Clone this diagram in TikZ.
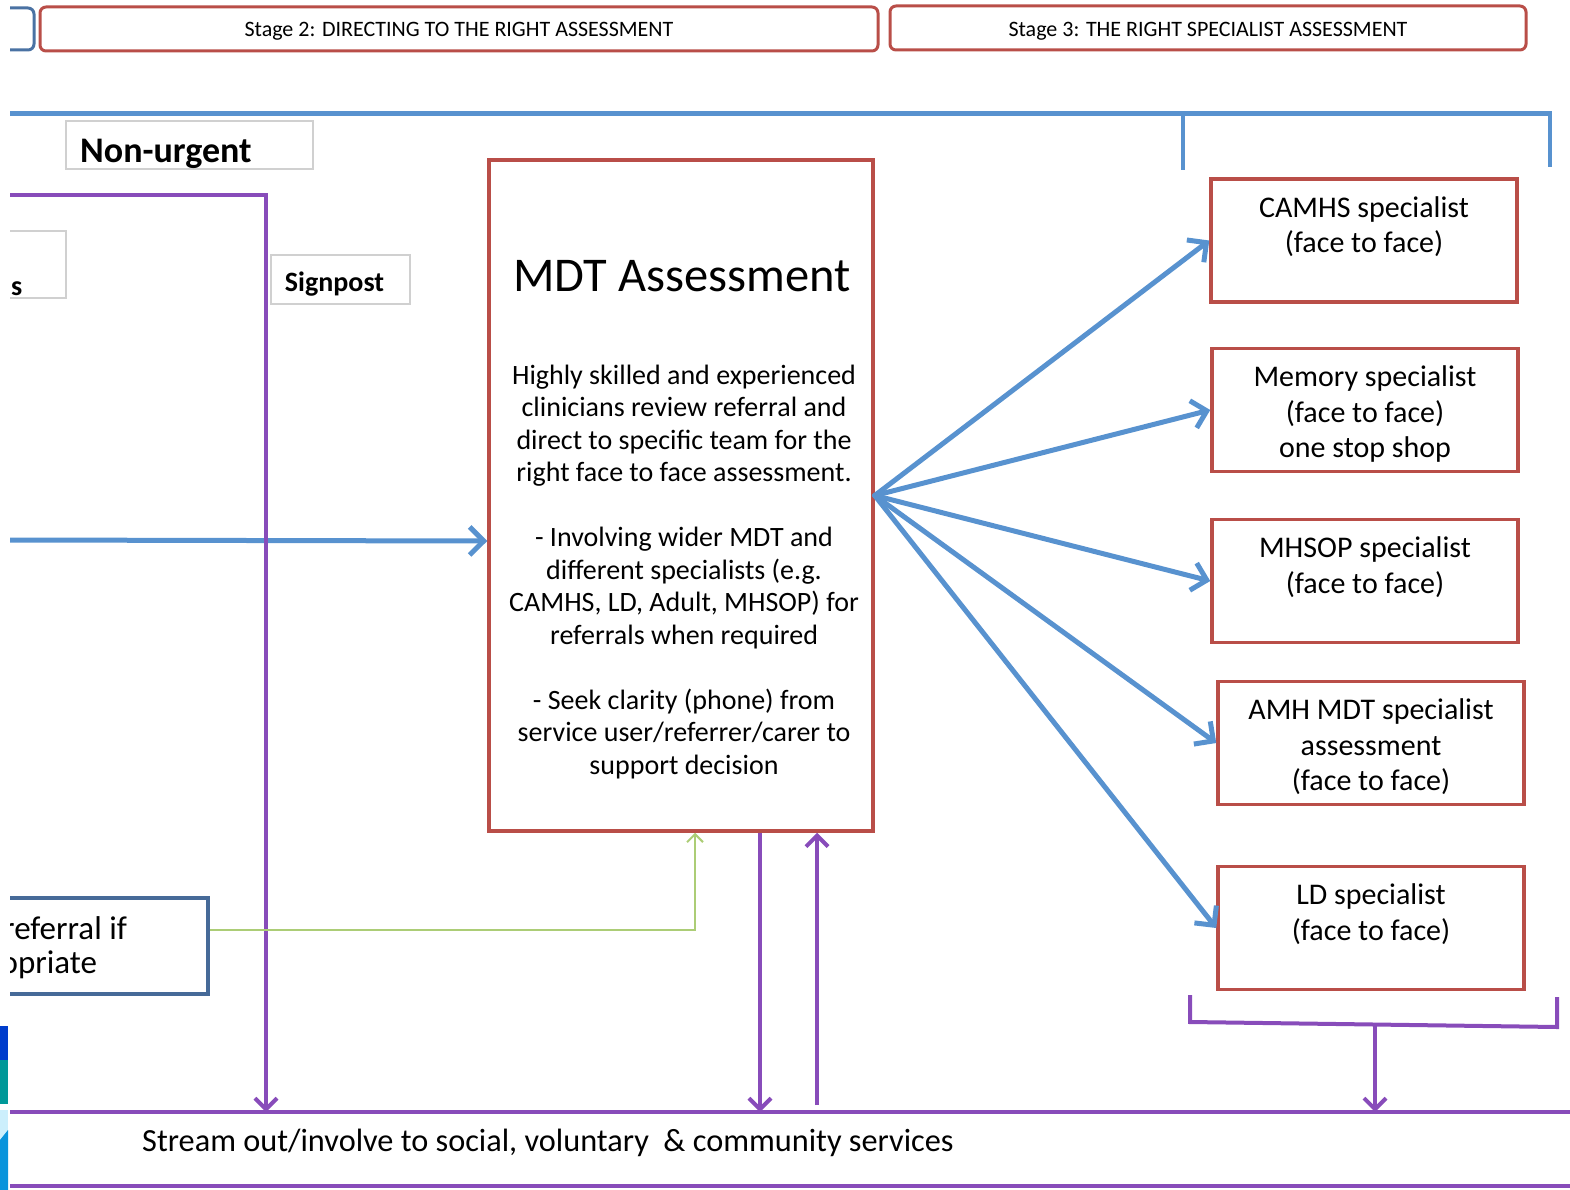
\documentclass[tikz,border=0pt]{standalone}
\usepackage{fontspec}
\setmainfont{Carlito}
\usetikzlibrary{arrows.meta,positioning}

\definecolor{boxred}{RGB}{185,78,72}
\definecolor{arrowblue}{RGB}{88,146,207}
\definecolor{streampurple}{RGB}{136,76,186}
\definecolor{referblue}{RGB}{70,106,152}
\definecolor{linkgreen}{RGB}{172,205,118}
\definecolor{boxgray}{RGB}{208,208,208}

\tikzset{
  stagebox/.style={draw=boxred, line width=3pt, rounded corners=6pt, minimum height=44pt, inner sep=0pt, font=\fontsize{22}{26}\selectfont},
  redbox/.style={draw=boxred, line width=3.5pt, inner sep=0pt},
  specbox/.style={redbox, minimum width=306pt, minimum height=123pt},
  spectext/.style={align=center, inner sep=0pt, font=\fontsize{30}{35.5}\selectfont},
  graybox/.style={draw=boxgray, line width=2pt, inner sep=0pt},
  bluearrow/.style={draw=arrowblue, line width=5pt, line cap=round, -{Straight Barb[length=14pt,width=28pt]}},
  purplearrow/.style={draw=streampurple, line width=4pt, -{Straight Barb[length=11pt,width=22pt]}},
}

\begin{document}
\begin{tikzpicture}[x=1pt, y=-1pt]
  \useasboundingbox (0,0) rectangle (1570,1190);

  % logo strip at the left edge
  \fill[blue!70!cyan!80!black] (0,1026) rectangle (8,1060);
  \fill[teal!80!cyan] (0,1060) rectangle (8,1104);
  \fill[cyan!20] (0,1110) rectangle (8,1150);
  \fill[cyan!80!blue] (0,1140) -- (8,1130) -- (8,1190) -- (0,1190) -- cycle;

  \begin{scope}
  \clip (10,0) rectangle (1570,1190);

  % stage headers
  \draw[draw=referblue!80!arrowblue, line width=3pt, rounded corners=6pt] (-20,8) rectangle (34,50);
  \node[stagebox, minimum width=838pt] (stage2) at (459,29) {};
  \node[stagebox, minimum width=636pt] (stage3) at (1208,28) {};
  \node[inner sep=0pt, font=\fontsize{22}{26}\selectfont] (stage2text) at (459,31) {Stage 2: DIRECTING TO THE RIGHT ASSESSMENT};
  \node[inner sep=0pt, font=\fontsize{22}{26}\selectfont] (stage3text) at (1208,31) {Stage 3: THE RIGHT SPECIALIST ASSESSMENT};

  % blue bracket over the specialists
  \draw[arrowblue, line width=4.5pt] (10,113.5) -- (1550,113.5) -- (1550,167);
  \draw[arrowblue, line width=4.5pt] (1183,113.5) -- (1183,170);

  % left side boxes
  \node[graybox, minimum width=247pt, minimum height=48pt] (nonurgent) at (189.5,145) {};
  \node[anchor=west, inner sep=0pt, font=\fontsize{36}{40}\selectfont\bfseries] (nonurgenttext) at (80,154) {Non-urgent};
  \node[graybox, minimum width=76pt, minimum height=67pt] (otherbox) at (28,264.5) {};
  \node[anchor=west, inner sep=0pt, font=\fontsize{28}{32}\selectfont\bfseries] (othertext) at (11,289) {s};
  \node[graybox, minimum width=139pt, minimum height=49pt] (signpost) at (340.5,279.5) {};
  \node[inner sep=0pt, font=\fontsize{28}{32}\selectfont\bfseries] (signposttext) at (334.5,284) {Signpost};
  \node[draw=referblue, line width=3.5pt, inner sep=0pt, minimum width=258pt, minimum height=96pt] (referral) at (79,946) {};
  \node[anchor=west, inner sep=0pt, font=\fontsize{33}{38}\selectfont] (referline1) at (3,928) {referral if};
  \node[anchor=west, inner sep=0pt, font=\fontsize{33}{38}\selectfont] (referline2) at (-61,965) {appropriate};

  % MDT box
  \node[redbox, minimum width=384pt, minimum height=671pt] (mdt) at (681,495.5) {};
  \node[inner sep=0pt, font=\fontsize{48.5}{56}\selectfont] (mdttitle) at (682,276) {MDT Assessment};
  \node[align=center, inner sep=0pt, font=\fontsize{28}{32.5}\selectfont] (mdtbody) at (684,572)
    {Highly skilled and experienced\\ clinicians review referral and\\ direct to specific team for the\\ right face to face assessment.\\[32.5pt]
     - Involving wider MDT and\\ different specialists (e.g.\\ CAMHS, LD, Adult, MHSOP) for\\ referrals when required\\[32.5pt]
     - Seek clarity (phone) from\\ service user/referrer/carer to\\ support decision};

  % specialist boxes
  \node[specbox] (camhs) at (1364,240.5) {};
  \node[specbox] (memory) at (1365,410) {};
  \node[specbox] (mhsop) at (1365,581) {};
  \node[specbox] (amh) at (1371,743) {};
  \node[specbox] (ld) at (1371,928) {};
  \node[spectext, below=19pt of camhs.north] {CAMHS specialist\\ (face to face)};
  \node[spectext, below=19pt of memory.north] {Memory specialist\\ (face to face)\\ one stop shop};
  \node[spectext, below=19pt of mhsop.north] {MHSOP specialist\\ (face to face)};
  \node[spectext, below=19pt of amh.north] {AMH MDT specialist\\ assessment\\ (face to face)};
  \node[spectext, below=19pt of ld.north] {LD specialist\\ (face to face)};

  % stream out band
  \coordinate (streamleft) at (10,1112);
  \coordinate (streamright) at (1570,1112);
  \draw[streampurple, line width=4pt] (streamleft) -- (streamright);
  \draw[streampurple, line width=4pt] (10,1186) -- (1570,1186);
  \node[anchor=west, inner sep=0pt, font=\fontsize{32.3}{36}\selectfont] (stream) at (142,1143)
    {Stream out/involve to social, voluntary\ \ \& community services};

  % arrows out of the MDT box
  \foreach \spec in {camhs,memory,mhsop,amh,ld}
    \draw[bluearrow] (mdt.east) -- (\spec.west);

  % arrow into the MDT box
  \coordinate (inflow) at (10,540);
  \draw[bluearrow] (inflow) -- (mdt.west |- 0,541);

  % purple links
  \draw[streampurple, line width=4pt, line join=miter] (10,195) -- (266,195) -- (266,1100);
  \draw[purplearrow] (266,1100) -- (266,0 |- streamleft);
  \draw[purplearrow] (mdt.south -| 760,0) -- (760,0 |- streamleft);
  \draw[purplearrow] (817,1105) -- (mdt.south -| 817,0);
  \draw[streampurple, line width=4pt] (1190,995) -- (1190,1022) -- (1557,1027) -- (1557,997);
  \draw[purplearrow] (1375,1025) -- (1375,0 |- streamright);

  % green link
  \draw[linkgreen, line width=2pt, -{Straight Barb[length=8pt,width=16pt]}]
    (referral.east |- 0,930) -- (695,930) -- (mdt.south -| 695,0);
  \end{scope}
\end{tikzpicture}
\end{document}
